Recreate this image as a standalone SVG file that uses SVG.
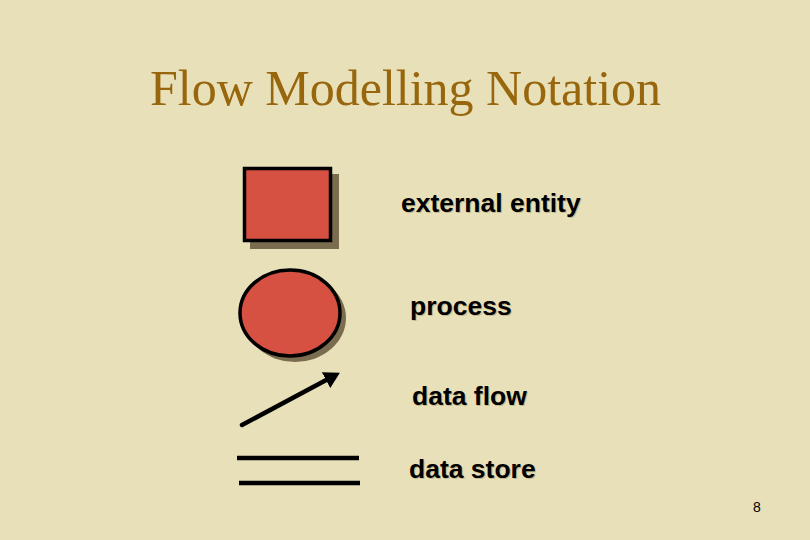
<svg xmlns="http://www.w3.org/2000/svg" width="810" height="540" viewBox="0 0 810 540">
<style>
.lbl{font-family:"Liberation Sans",Arial,sans-serif;font-weight:bold;font-size:26.5px;fill:#000}
.lsh{font-family:"Liberation Sans",Arial,sans-serif;font-weight:bold;font-size:26.5px;fill:#c4b890}
.shape{fill:#D65141;stroke:#000;stroke-width:3.5}
.shadow{fill:#7A6C4E}
.ln{stroke:#000;stroke-width:4.5;fill:none}
</style>
<defs>
<marker id="ah" markerWidth="4" markerHeight="4" refX="1" refY="2" orient="auto" markerUnits="strokeWidth">
<path d="M0,0 L3.5,2 L0,4 z" fill="#000"/>
</marker>
</defs>
<rect width="810" height="540" fill="#E8E0B8"/>
<text x="405.5" y="105" text-anchor="middle" font-family="'Liberation Serif','Times New Roman',serif" font-size="50" fill="#98660C">Flow Modelling Notation</text>
<g id="external-entity">
<rect class="shadow" x="250" y="174" width="89" height="75"/>
<rect class="shape" x="244.5" y="168.5" width="86" height="72"/>
<text class="lsh" x="402" y="213">external entity</text>
<text class="lbl" x="401" y="212">external entity</text>
</g>
<g id="process">
<ellipse class="shadow" cx="295" cy="318" rx="51" ry="44"/>
<ellipse class="shape" cx="290" cy="313" rx="50" ry="43"/>
<text class="lsh" x="411" y="316">process</text>
<text class="lbl" x="410" y="315">process</text>
</g>
<g id="data-flow-legend">
<text class="lsh" x="413" y="406">data flow</text>
<text class="lbl" x="412" y="405">data flow</text>
</g>
<g id="data-store">
<line class="ln" x1="237" y1="458" x2="359" y2="458"/>
<line class="ln" x1="239" y1="483" x2="360" y2="483"/>
<text class="lsh" x="410" y="479">data store</text>
<text class="lbl" x="409" y="478">data store</text>
</g>
<g id="connectors">
<line class="ln" x1="242" y1="425" x2="330" y2="378" stroke-linecap="round" marker-end="url(#ah)"/>
</g>
<text x="757" y="512" text-anchor="middle" font-family="'Liberation Sans',Arial,sans-serif" font-size="14" fill="#000">8</text>
</svg>
